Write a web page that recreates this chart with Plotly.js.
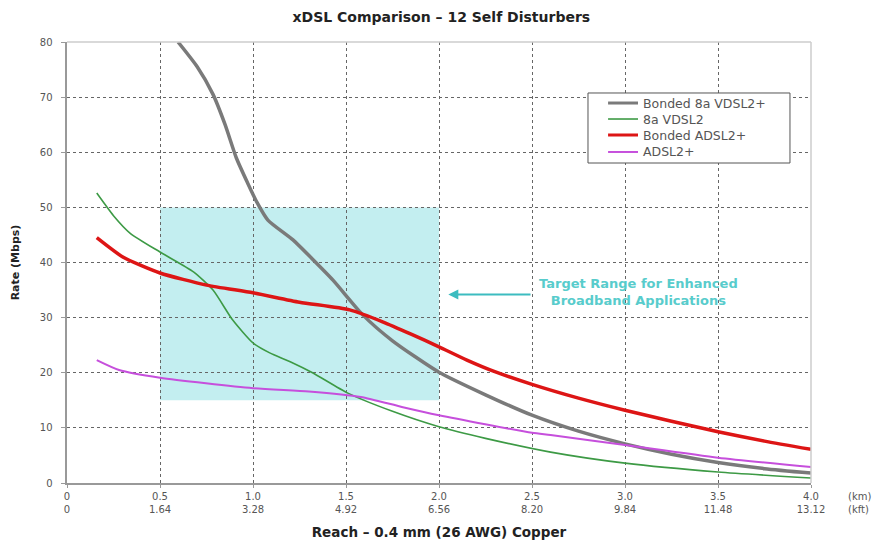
<!DOCTYPE html>
<html>
<head>
<meta charset="utf-8">
<script src="https://cdn.plot.ly/plotly-3.0.1.min.js"></script>
<style>html,body{margin:0;padding:0;background:#fff;}#chart{width:874px;height:542px;}</style>
</head>
<body>
<div id="chart"></div>
<script>
// ---- data ----
const tickVals = [0, 0.5, 1.0, 1.5, 2.0, 2.5, 3.0, 3.5, 4.0];
const kmLabels = ["0", "0.5", "1.0", "1.5", "2.0", "2.5", "3.0", "3.5", "4.0"];
const kftLabels = ["0", "1.64", "3.28", "4.92", "6.56", "8.20", "9.84", "11.48", "13.12"];

const bondedVdslX = [0.597, 0.70, 0.785, 0.85, 0.91, 0.97, 1.02, 1.08, 1.215, 1.323, 1.43, 1.59, 1.75, 2.0, 2.25, 2.5, 2.75, 3.0, 3.25, 3.5, 3.75, 4.0];
const bondedVdslY = [80, 75.5, 70.5, 65.0, 59.0, 54.5, 51.0, 47.7, 44.1, 40.5, 36.8, 30.5, 25.8, 20.1, 16.0, 12.3, 9.4, 7.1, 5.2, 3.7, 2.6, 1.8];

const vdslX = [0.16, 0.25, 0.34, 0.5, 0.68, 0.785, 0.89, 1.0, 1.09, 1.2, 1.32, 1.51, 1.75, 2.0, 2.25, 2.6, 3.0, 3.5, 4.0];
const vdslY = [52.6, 48.5, 45.3, 41.9, 38.3, 35.0, 29.6, 25.4, 23.6, 22.0, 20.0, 16.3, 13.0, 10.2, 8.1, 5.6, 3.6, 2.0, 0.9];

const bondedAdslX = [0.16, 0.3, 0.5, 0.75, 1.0, 1.25, 1.52, 1.7, 1.85, 2.0, 2.15, 2.3, 2.5, 2.75, 3.0, 3.25, 3.5, 3.75, 4.0];
const bondedAdslY = [44.5, 41.0, 38.1, 35.9, 34.5, 32.8, 31.4, 29.2, 27.0, 24.7, 22.3, 20.2, 17.9, 15.4, 13.2, 11.2, 9.3, 7.6, 6.1];

const adslX = [0.16, 0.28, 0.5, 1.0, 1.3, 1.58, 1.8, 2.0, 2.5, 2.6, 3.0, 3.5, 4.0];
const adslY = [22.3, 20.5, 19.1, 17.2, 16.6, 15.6, 13.8, 12.3, 9.1, 8.7, 6.9, 4.6, 2.9];

const targetX = [0.5, 2.0];
const targetY = [15, 50];

const seriesNames = ["Bonded 8a VDSL2+", "8a VDSL2", "Bonded ADSL2+", "ADSL2+"];
const seriesColors = ["#7a7a7a", "#3d9a45", "#dd1515", "#c64fdc"];
const seriesWidths = [3.5, 1.6, 3.5, 2];

const tickFont = "DejaVu Sans, Verdana, sans-serif";
const boldFont = "DejaVu Sans, Verdana, sans-serif";

const tickText = kmLabels.map((k, i) => k + "<br>" + kftLabels[i]);

const seriesX = [bondedVdslX, vdslX, bondedAdslX, adslX];
const seriesY = [bondedVdslY, vdslY, bondedAdslY, adslY];

const traces = seriesNames.map((n, i) => ({
  x: seriesX[i], y: seriesY[i], name: n, mode: "lines", showlegend: false,
  line: {color: seriesColors[i], width: seriesWidths[i], shape: "spline", smoothing: 0.6}
}));

// custom legend (box, line samples, labels) placed in data coordinates
const legBox = {x0: 2.801, x1: 3.887, y0: 58.05, y1: 70.75};
const legRowsY = [68.93, 66.03, 63.13, 60.05];
const legLineX = [2.909, 3.070];
const legTextX = 3.086;

const shapes = [
  {type: "rect", xref: "x", yref: "y", x0: targetX[0], x1: targetX[1], y0: targetY[0], y1: targetY[1],
   fillcolor: "#c3eef0", line: {width: 0}, layer: "below"},
  {type: "line", xref: "paper", yref: "paper", x0: 0, x1: 1, y0: 1, y1: 1, line: {color: "#ccc", width: 1.5}},
  {type: "line", xref: "paper", yref: "paper", x0: 1, x1: 1, y0: 0, y1: 1, line: {color: "#ccc", width: 1.5}},
  {type: "rect", xref: "x", yref: "y", x0: legBox.x0, x1: legBox.x1, y0: legBox.y0, y1: legBox.y1,
   fillcolor: "#fff", line: {color: "#555", width: 1}, layer: "above"}
];
seriesNames.forEach((n, i) => {
  shapes.push({type: "line", xref: "x", yref: "y", x0: legLineX[0], x1: legLineX[1], y0: legRowsY[i], y1: legRowsY[i],
               line: {color: seriesColors[i], width: Math.min(seriesWidths[i], 3)}, layer: "above"});
});

const annotations = [
  {xref: "x", yref: "y", x: 2.05, y: 34.2, ax: 2.5, ay: 34.2, axref: "x", ayref: "y",
   showarrow: true, arrowhead: 2, arrowsize: 1, arrowwidth: 2, arrowcolor: "#3cbcc0", text: ""},
  {xref: "x", yref: "y", x: 3.07, y: 34.6, showarrow: false,
   text: "<b>Target Range for Enhanced<br>Broadband Applications</b>",
   font: {family: boldFont, size: 13, color: "#58cccc"}, align: "center"},
  {xref: "paper", yref: "paper", x: 1.047, y: -0.014, xanchor: "left", yanchor: "top", showarrow: false,
   text: "(km)<br>(kft)", align: "left", font: {family: tickFont, size: 10, color: "#555"}}
];
seriesNames.forEach((n, i) => {
  annotations.push({xref: "x", yref: "y", x: legTextX, y: legRowsY[i], xanchor: "left", yanchor: "middle",
                    showarrow: false, text: n, font: {family: tickFont, size: 12.5, color: "#555"}});
});

const layout = {
  width: 874, height: 542,
  margin: {l: 67, r: 63, t: 42, b: 59},
  paper_bgcolor: "#fff", plot_bgcolor: "#fff",
  font: {family: tickFont, color: "#555", size: 10},
  showlegend: false,
  title: {text: "<b>xDSL Comparison – 12 Self Disturbers</b>", x: 0.505, xanchor: "center", y: 0.968, yanchor: "middle",
          font: {family: boldFont, size: 14, color: "#222"}},
  xaxis: {
    range: [0, 4], tickmode: "array", tickvals: tickVals, ticktext: tickText,
    showgrid: true, gridcolor: "#666", griddash: "dot", gridwidth: 1,
    zeroline: false, showline: true, linecolor: "#999", linewidth: 2,
    ticks: "outside", ticklen: 3, tickcolor: "#999",
    tickfont: {family: tickFont, size: 10, color: "#555"},
    title: {text: "<b>Reach – 0.4 mm (26 AWG) Copper</b>", standoff: 14,
            font: {family: boldFont, size: 13.5, color: "#222"}}
  },
  yaxis: {
    range: [0, 80], dtick: 10,
    showgrid: true, gridcolor: "#666", griddash: "dot", gridwidth: 1,
    zeroline: false, showline: true, linecolor: "#999", linewidth: 2.5,
    ticks: "outside", ticklen: 4, tickcolor: "#999", ticklabelstandoff: 6,
    tickfont: {family: tickFont, size: 10, color: "#555"},
    title: {text: "<b>Rate (Mbps)</b>", standoff: 18,
            font: {family: boldFont, size: 11, color: "#222"}}
  },
  shapes: shapes,
  annotations: annotations
};

Plotly.newPlot("chart", traces, layout, {displayModeBar: false, staticPlot: true});
</script>
</body>
</html>
